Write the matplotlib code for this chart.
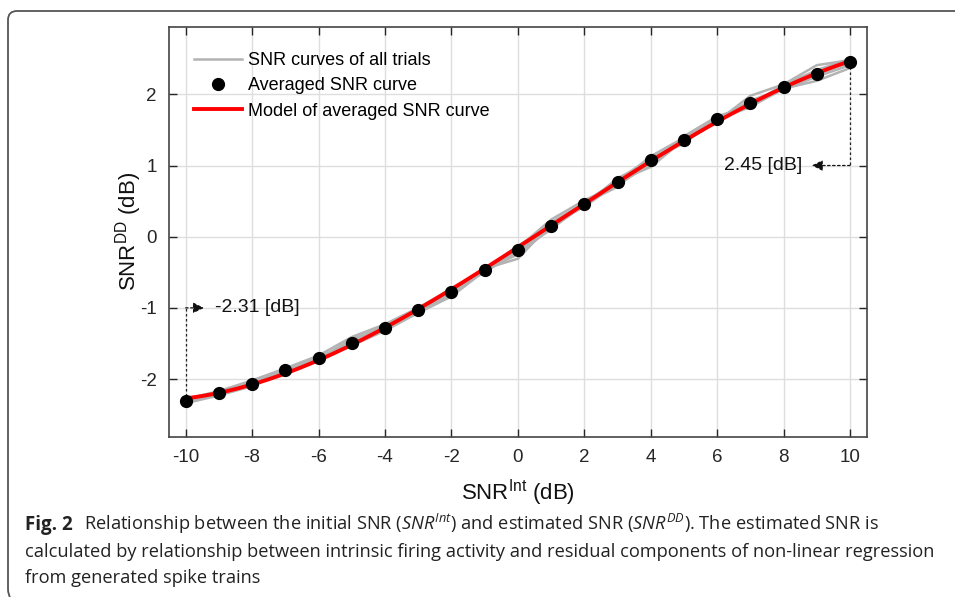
import numpy as np
import matplotlib
matplotlib.use("Agg")
import matplotlib.pyplot as plt
from matplotlib.path import Path
from matplotlib.patches import PathPatch

plt.rcParams['mathtext.fontset'] = 'custom'
plt.rcParams['mathtext.rm'] = 'Open Sans'
plt.rcParams['mathtext.it'] = 'Open Sans:italic'
plt.rcParams['mathtext.sf'] = 'Liberation Sans'
plt.rcParams['font.family'] = ['Liberation Sans', 'DejaVu Sans']

# ---- data ----
snr_int = [-10, -9, -8, -7, -6, -5, -4, -3, -2, -1, 0, 1, 2, 3, 4, 5, 6, 7, 8, 9, 10]
avg_snr = [-2.31, -2.20, -2.07, -1.87, -1.70, -1.49, -1.285, -1.03, -0.78, -0.47,
           -0.19, 0.15, 0.46, 0.77, 1.08, 1.36, 1.65, 1.88, 2.10, 2.28, 2.45]
trial_1 = [-2.28, -2.17, -2.02, -1.85, -1.67, -1.41, -1.23, -1.00, -0.73, -0.46,
           -0.25, 0.12, 0.44, 0.82, 1.06, 1.33, 1.62, 1.98, 2.14, 2.41, 2.48]
trial_2 = [-2.34, -2.23, -2.10, -1.90, -1.73, -1.53, -1.32, -1.07, -0.84, -0.48,
           -0.16, 0.24, 0.51, 0.73, 1.02, 1.41, 1.69, 1.84, 2.07, 2.25, 2.41]
trial_3 = [-2.30, -2.21, -2.05, -1.88, -1.71, -1.46, -1.26, -1.02, -0.75, -0.50,
           -0.20, 0.10, 0.48, 0.79, 1.11, 1.33, 1.67, 1.86, 2.13, 2.34, 2.50]
trial_4 = [-2.33, -2.19, -2.08, -1.86, -1.69, -1.51, -1.30, -1.05, -0.80, -0.45,
           -0.31, 0.18, 0.42, 0.75, 1.13, 1.39, 1.64, 1.91, 2.08, 2.19, 2.37]
trial_5 = [-2.31, -2.20, -2.06, -1.89, -1.70, -1.50, -1.29, -1.03, -0.81, -0.47,
           -0.13, 0.16, 0.46, 0.78, 0.98, 1.36, 1.65, 1.82, 2.09, 2.27, 2.47]
trial_6 = [-2.29, -2.22, -2.07, -1.87, -1.72, -1.44, -1.27, -1.04, -0.77, -0.49,
           -0.22, 0.20, 0.47, 0.70, 1.09, 1.31, 1.66, 1.88, 2.11, 2.30, 2.44]
trials = [trial_1, trial_2, trial_3, trial_4, trial_5, trial_6]
x_ticks = [-10, -8, -6, -4, -2, 0, 2, 4, 6, 8, 10]
y_ticks = [-2, -1, 0, 1, 2]
start_label = "-2.31 [dB]"
end_label = "2.45 [dB]"

W, H = 955, 597
fig = plt.figure(figsize=(W / 100, H / 100), dpi=100)

def fx(px):
    return px / W

def fy(py):
    return 1 - py / H

# frame with rounded corner
verts = [(fx(960), fy(11)), (fx(17), fy(11)), (fx(8), fy(11)), (fx(8), fy(20)),
         (fx(8), fy(589)), (fx(8), fy(595)), (fx(11), fy(599))]
codes = [Path.MOVETO, Path.LINETO, Path.CURVE3, Path.CURVE3, Path.LINETO, Path.CURVE3, Path.CURVE3]
fig.patches.append(PathPatch(Path(verts, codes), transform=fig.transFigure,
                             fill=False, edgecolor='#555555', lw=1.3))

ax = fig.add_axes([fx(169), fy(436.7), fx(866.7) - fx(169), fy(26.7) - fy(436.7)])

for i, t in enumerate(trials):
    ax.plot(snr_int, t, color='#b3b3b3', lw=1.8,
            label='SNR curves of all trials' if i == 0 else None, zorder=2)

ax.plot(snr_int, avg_snr, 'o', color='black', ms=8.5, zorder=4, label='Averaged SNR curve')

coef = np.polyfit(snr_int, avg_snr, 3)
xf = np.linspace(min(snr_int), max(snr_int), 300)
ax.plot(xf, np.polyval(coef, xf), color='#ff0000', lw=2.8, zorder=3,
        label='Model of averaged SNR curve')

ax.set_xlim(-10.5, 10.5)
ax.set_ylim(-2.81, 2.95)
ax.set_xticks(x_ticks)
ax.set_yticks(y_ticks)
ax.set_xticklabels([str(v) for v in x_ticks])
ax.set_yticklabels([str(v) for v in y_ticks])
ax.grid(True, color='#dedede', lw=1.0)
ax.set_axisbelow(True)
ax.tick_params(direction='in', length=6, width=1.0, top=True, right=True,
               labelsize=13.5, colors='#262626', pad=9)
for s in ax.spines.values():
    s.set_color('#444444')
    s.set_linewidth(1.2)

ax.set_xlabel(r'$\mathsf{SNR}^{\mathsf{Int}}$ (dB)', fontsize=16, color='#111111', labelpad=8)
ax.set_ylabel(r'$\mathsf{SNR}^{\mathsf{DD}}$ (dB)', fontsize=16, color='#111111', labelpad=-3)

# annotations
x0, y0 = snr_int[0], avg_snr[0]
x1, y1 = snr_int[-1], avg_snr[-1]
ax.plot([x0, x0], [y0, -1], ls=(0, (2, 2)), color='#222222', lw=0.9, zorder=1)
ax.annotate('', xy=(-9.45, -1), xytext=(x0, -1),
            arrowprops=dict(arrowstyle='-|>', linestyle=(0, (2, 2)), color='#111111',
                            lw=0.9, mutation_scale=16, shrinkA=0, shrinkB=0))
ax.text(-9.12, -1, start_label, fontsize=14, va='center', ha='left', color='#111111')

ax.plot([x1, x1], [y1, 1], ls=(0, (2, 2)), color='#222222', lw=0.9, zorder=1)
ax.annotate('', xy=(8.85, 1), xytext=(x1, 1),
            arrowprops=dict(arrowstyle='-|>', linestyle=(0, (2, 2)), color='#111111',
                            lw=0.9, mutation_scale=16, shrinkA=0, shrinkB=0))
ax.text(8.55, 1, end_label, fontsize=14, va='center', ha='right', color='#111111')

leg = ax.legend(loc='upper left', frameon=False, fontsize=13, handlelength=2.7,
                handletextpad=0.3, labelspacing=0.45, borderaxespad=0.0,
                bbox_to_anchor=(0.025, 0.955))

# caption
cap_kw = dict(fontsize=13.15, family='Open Sans', color='#222222', ha='left', va='baseline')
t1 = fig.text(fx(25), fy(530), 'Fig. 2', fontweight='bold', fontsize=13.5,
              family='Open Sans', color='#222222', ha='left', va='baseline')
fig.canvas.draw()
r = fig.canvas.get_renderer()
bb = t1.get_window_extent(r)
fig.text(bb.x1 / W + 0.012, fy(530),
         r'Relationship between the initial SNR ($\mathit{SNR}^{\mathit{Int}}$) and estimated SNR '
         r'($\mathit{SNR}^{\mathit{DD}}$). The estimated SNR is', **cap_kw)
fig.text(fx(25), fy(557), 'calculated by relationship between intrinsic firing activity and '
         'residual components of non-linear regression', **cap_kw)
fig.text(fx(25), fy(583), 'from generated spike trains', **cap_kw)

fig.savefig('out.png', dpi=100)
